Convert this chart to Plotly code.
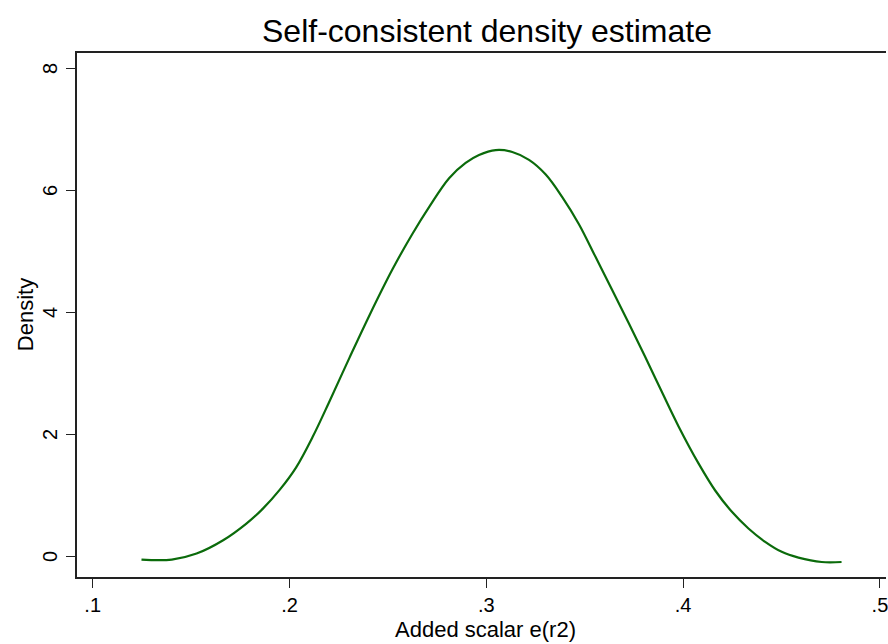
import plotly.graph_objects as go

# Data
x_vals = [0.1248, 0.1402, 0.1528, 0.1663, 0.1781, 0.1865, 0.1950, 0.2034, 0.2118, 0.2203,
          0.2304, 0.2406, 0.2524, 0.2625, 0.2710, 0.2811, 0.2895, 0.2963, 0.3048, 0.3132,
          0.3217, 0.3302, 0.3386, 0.3470, 0.3555, 0.3639, 0.3724, 0.3809, 0.3893, 0.3977,
          0.4079, 0.4163, 0.4248, 0.4332, 0.4417, 0.4501, 0.4586, 0.4704, 0.4805]
density = [-0.043, -0.043, 0.056, 0.274, 0.547, 0.793, 1.10, 1.47, 1.97, 2.55,
           3.26, 3.96, 4.72, 5.30, 5.74, 6.21, 6.46, 6.59, 6.67, 6.64,
           6.51, 6.27, 5.90, 5.46, 4.92, 4.38, 3.83, 3.27, 2.70, 2.14,
           1.53, 1.09, 0.74, 0.467, 0.248, 0.084, -0.010, -0.082, -0.082]

x_ticks = [0.1, 0.2, 0.3, 0.4, 0.5]
x_tick_labels = [".1", ".2", ".3", ".4", ".5"]
y_ticks = [0, 2, 4, 6, 8]
y_tick_labels = ["0", "2", "4", "6", "8"]

title_text = "Self-consistent density estimate"
x_title = "Added scalar e(r2)"
y_title = "Density"

W, H = 888, 644
L, R, T, B = 77, 0, 53, 67
PW = W - L - R
PH = H - T - B

font_family = "Liberation Sans, Arial, sans-serif"

fig = go.Figure()
fig.add_trace(go.Scatter(
    x=x_vals, y=density, mode="lines",
    line=dict(color="#0b6b0b", width=2.2, shape="spline", smoothing=1.0),
    showlegend=False, hoverinfo="skip",
))

annotations = [
    dict(text=title_text, xref="paper", yref="paper",
         x=(488 - L) / PW, y=1 + (53 - 31) / PH,
         xanchor="center", yanchor="middle", showarrow=False,
         font=dict(size=32, family=font_family, color="black")),
    dict(text=x_title, xref="paper", yref="paper",
         x=(487 - L) / PW, y=-(629 - 577) / PH,
         xanchor="center", yanchor="middle", showarrow=False,
         font=dict(size=22, family=font_family, color="black")),
    dict(text=y_title, xref="paper", yref="paper",
         x=-(L - 25) / PW, y=0.5,
         xanchor="center", yanchor="middle", showarrow=False, textangle=-90,
         font=dict(size=22, family=font_family, color="black")),
]
# rotated y tick labels (Stata style)
for v, lab in zip(y_ticks, y_tick_labels):
    annotations.append(dict(
        text=lab, xref="paper", yref="y", x=-(L - 50) / PW, y=v,
        xanchor="center", yanchor="middle", showarrow=False, textangle=-90,
        font=dict(size=20, family=font_family, color="black")))

fig.update_layout(
    width=W, height=H,
    margin=dict(l=L, r=R, t=T, b=B, pad=0),
    paper_bgcolor="white", plot_bgcolor="white",
    font=dict(family=font_family, color="black"),
    showlegend=False,
    xaxis=dict(
        range=[0.09204, 0.50309],
        tickmode="array", tickvals=x_ticks, ticktext=x_tick_labels,
        ticks="outside", ticklen=9, tickwidth=1.2, tickcolor="#222",
        tickfont=dict(size=20, family=font_family, color="black"),
        ticklabelstandoff=0, ticklabeloverflow="allow",
        showline=True, linecolor="#222", linewidth=1.6, mirror=True,
        showgrid=False, zeroline=False,
    ),
    yaxis=dict(
        range=[-0.328, 8.262],
        tickmode="array", tickvals=y_ticks,
        ticks="outside", ticklen=9, tickwidth=1.2, tickcolor="#222",
        showticklabels=False,
        showline=True, linecolor="#222", linewidth=1.6, mirror=False,
        showgrid=False, zeroline=False,
    ),
    annotations=annotations,
)

fig.write_html("out.html")
